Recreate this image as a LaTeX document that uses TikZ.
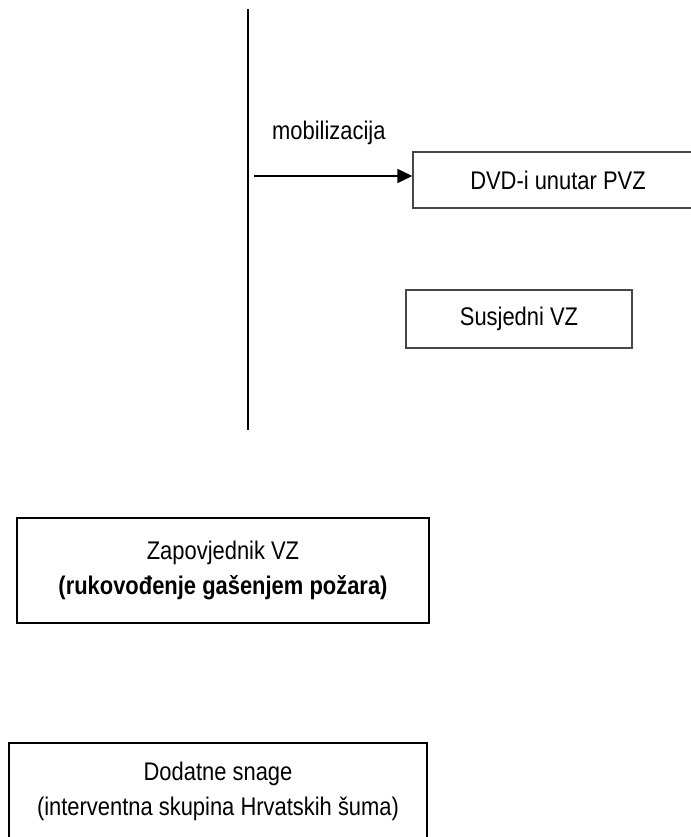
\documentclass[tikz,border=0pt]{standalone}
\usepackage{fontspec}
\setmainfont{Liberation Sans}[FakeStretch=0.86]
\usetikzlibrary{arrows.meta}
\begin{document}
\begin{tikzpicture}[x=1bp,y=-1bp,
  txt/.style={font=\fontsize{25.5bp}{35bp}\selectfont},
  thinbox/.style={txt,draw=black!72,line width=1.3bp,inner sep=0pt},
  thickbox/.style={txt,draw=black,line width=2bp,inner sep=0pt,align=center},
  lbl/.style={txt,inner sep=0pt}]
\useasboundingbox (0,0) rectangle (691,837);
% vertical line
\coordinate (vtop) at (248,9);
\coordinate (vbot) at (248,430);
\draw[line width=1.3bp] (vtop) -- (vbot);
% boxes
\node[thinbox,minimum width=290bp,minimum height=56bp] (dvd) at (558,180) {DVD-i unutar PVZ};
\node[thinbox,minimum width=226bp,minimum height=58bp] (susj) at (519,319) {Susjedni VZ};
\node[thickbox,minimum width=412bp,minimum height=105bp] (zap) at (223,570.5)
  {Zapovjednik VZ\\\textbf{(rukovođenje gašenjem požara)}};
\node[thickbox,anchor=north,minimum width=418bp,inner xsep=0pt,inner ysep=19.5bp] (dod) at (218,742)
  {Dodatne snage\\(interventna skupina Hrvatskih šuma)};
% arrow
\node[lbl,anchor=base west] (mob) at (272,139) {mobilizacija};
\coordinate (astart) at (254,176);
\draw[line width=2bp,-{Triangle[length=15bp,width=14bp]}] (astart) -- (astart -| dvd.west);
\end{tikzpicture}
\end{document}
